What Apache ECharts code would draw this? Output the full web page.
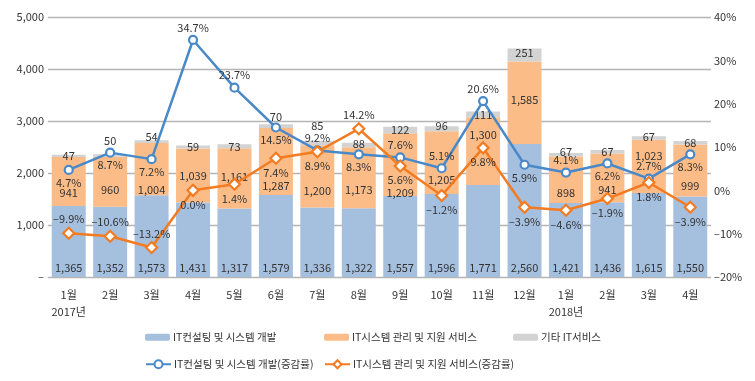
<!DOCTYPE html>
<html><head><meta charset="utf-8">
<script src="https://cdn.jsdelivr.net/npm/echarts@6/dist/echarts.min.js"></script>
<style>html,body{margin:0;padding:0;background:#fff}#c{width:755px;height:381px}</style>
</head><body><div id="c"></div>
<script>
const months = ['1월','2월','3월','4월','5월','6월','7월','8월','9월','10월','11월','12월','1월','2월','3월','4월'];
const yearLabels = {0:'2017년', 12:'2018년'};
const devValues = [1365,1352,1573,1431,1317,1579,1336,1322,1557,1596,1771,2560,1421,1436,1615,1550];
const mgmtValues = [941,960,1004,1039,1161,1287,1200,1173,1209,1205,1300,1585,898,941,1023,999];
const etcValues = [47,50,54,59,73,70,85,88,122,96,111,251,67,67,67,68];
const devGrowth = [4.7,8.7,7.2,34.7,23.7,14.5,9.2,8.3,7.6,5.1,20.6,5.9,4.1,6.2,2.7,8.3];
const mgmtGrowth = [-9.9,-10.6,-13.2,0.0,1.4,7.4,8.9,14.2,5.6,-1.2,9.8,-3.9,-4.6,-1.9,1.8,-3.9];
const leftTicks = {5000:'5,000',4000:'4,000',3000:'3,000',2000:'2,000',1000:'1,000',0:'–'};
const names = ['IT컨설팅 및 시스템 개발','IT시스템 관리 및 지원 서비스','기타 IT서비스','IT컨설팅 및 시스템 개발(증감률)','IT시스템 관리 및 지원 서비스(증감률)'];

// label layout (not data)
const devLabelPos = ['bottom','bottom','bottom','top','top','bottom','top','bottom','top','top','top','bottom','top','bottom','top','bottom'];
const mgmtLabelPos = ['top','top','top','bottom','bottom','bottom','bottom','top','bottom','bottom','bottom','bottom','bottom','bottom','bottom','bottom'];
const mgmtBarDy = [11,8,21,0,-2,24,14,12,28,17,-16,-3,13,12,-11,15];
const etcBarDy = [0,-15,-5,0,1,-9,-17,-1,0,-3,0,-2,-3,0,-1,0];

const FONT = "'Noto Sans CJK KR', 'Noto Sans', sans-serif";
const TXT = '#333';
const fmtN = v => v.toLocaleString('en-US');
const fmtP = v => (v < 0 ? '–' + Math.abs(v).toFixed(1) : v.toFixed(1)) + '%';
const lblBase = {color: TXT, fontSize: 11, fontFamily: FONT};

const chart = echarts.init(document.getElementById('c'), null, {renderer: 'canvas'});

function legend(name, left, top) {
  return {data:[name], left:left, top:top, itemWidth:25, itemHeight:7, itemGap:0, padding:0,
    textStyle:{color:TXT, fontSize:10.5, fontFamily:FONT, padding:[0,0,0,-2]}, selectedMode:false};
}

chart.setOption({
  animation:false,
  grid:{left:48, right:44, top:17, bottom:104},
  legend:[
    legend(names[0],145,332), legend(names[1],324,332), legend(names[2],513,332),
    Object.assign(legend(names[3],145,359),{itemHeight:10}), Object.assign(legend(names[4],324,359),{itemHeight:10})
  ],
  xAxis:{type:'category', data:months, axisLine:{show:false}, axisTick:{show:false},
    axisLabel:{interval:0, color:TXT, fontSize:11, fontFamily:FONT, margin:9, lineHeight:17,
      formatter:(v,i)=> yearLabels[i] ? v + '\n' + yearLabels[i] : v}},
  yAxis:[
    {type:'value', min:0, max:5000, interval:1000,
      axisLabel:{color:TXT, fontSize:11, fontFamily:FONT, margin:4, formatter:v=>leftTicks[v]},
      splitLine:{lineStyle:{color:'#b5b5b5', width:1.3}}, axisLine:{show:false}, axisTick:{show:false}},
    {type:'value', min:-20, max:40, interval:10, position:'right',
      axisLabel:{color:TXT, fontSize:11, fontFamily:FONT, margin:3, formatter:v=>(v<0?'–'+Math.abs(v):v)+'%'},
      splitLine:{show:false}, axisLine:{show:false}, axisTick:{show:false}}
  ],
  series:[
    {name:names[0], type:'bar', stack:'s', barCategoryGap:'18%', itemStyle:{color:'#a5bfdf'},
      data:devValues,
      label:Object.assign({show:true, position:'insideBottom', distance:4, formatter:p=>fmtN(p.value)}, lblBase)},
    {name:names[1], type:'bar', stack:'s', itemStyle:{color:'#fbbc88'},
      data:mgmtValues.map((v,i)=>({value:v, label:{offset:[0,mgmtBarDy[i]]}})),
      label:Object.assign({show:true, position:'inside', formatter:p=>fmtN(p.value)}, lblBase)},
    {name:names[2], type:'bar', stack:'s', itemStyle:{color:'#d3d3d3'},
      data:etcValues.map((v,i)=>({value:v, label:{offset:[0,etcBarDy[i]]}})),
      label:Object.assign({show:true, position:'inside', formatter:p=>fmtN(p.value)}, lblBase)},
    {name:names[3], type:'line', yAxisIndex:1, z:5, symbol:'circle', symbolSize:8,
      lineStyle:{color:'#4a89c8', width:2.5}, itemStyle:{color:'#fff', borderColor:'#4a89c8', borderWidth:2.2},
      data:devGrowth.map((v,i)=>({value:v, label:{position:devLabelPos[i]}})),
      label:Object.assign({show:true, distance:2, formatter:p=>fmtP(p.value)}, lblBase)},
    {name:names[4], type:'line', yAxisIndex:1, z:5, symbol:'diamond', symbolSize:11,
      lineStyle:{color:'#f37b21', width:2.5}, itemStyle:{color:'#fff', borderColor:'#f37b21', borderWidth:2.2},
      data:mgmtGrowth.map((v,i)=>({value:v, label:{position:mgmtLabelPos[i]}})),
      label:Object.assign({show:true, distance:2, formatter:p=>fmtP(p.value)}, lblBase)}
  ]
});
</script></body></html>
